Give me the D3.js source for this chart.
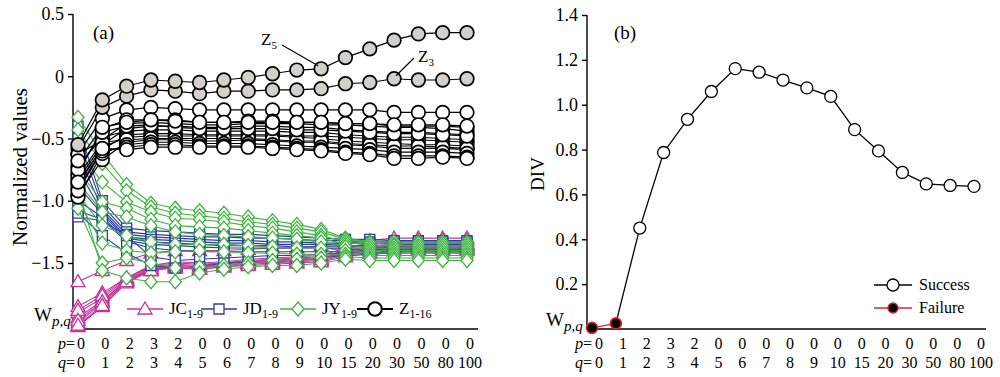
<!DOCTYPE html>
<html>
<head>
<meta charset="utf-8">
<script src="https://cdn.jsdelivr.net/npm/d3@7"></script>
<style>
  body { margin: 0; background: #fff; }
  svg text { font-family: "Times New Roman", "Liberation Serif", "DejaVu Serif", serif !important; fill: #000; }
</style>
</head>
<body>
<svg id="chart" width="1000" height="377"></svg>
<script>
// x categories (W_p,q)
const qLabels = ["0","1","2","3","4","5","6","7","8","9","10","15","20","30","50","80","100"];
const pLabelsA = ["0","0","2","3","2","0","0","0","0","0","0","0","0","0","0","0","0"];
const pLabelsB = ["0","1","2","3","2","0","0","0","0","0","0","0","0","0","0","0","0"];

// panel (a) – normalized values
const jc = [
  [-1.65,-1.56,-1.48,-1.42,-1.40,-1.40,-1.40,-1.39,-1.38,-1.38,-1.36,-1.34,-1.32,-1.30,-1.30,-1.30,-1.30],
  [-1.85,-1.74,-1.62,-1.52,-1.49,-1.50,-1.49,-1.47,-1.46,-1.45,-1.44,-1.38,-1.35,-1.33,-1.32,-1.32,-1.32],
  [-1.90,-1.78,-1.63,-1.53,-1.51,-1.52,-1.50,-1.48,-1.47,-1.46,-1.45,-1.40,-1.37,-1.35,-1.34,-1.34,-1.34],
  [-1.94,-1.80,-1.64,-1.55,-1.52,-1.53,-1.51,-1.49,-1.48,-1.47,-1.46,-1.42,-1.39,-1.37,-1.36,-1.36,-1.36],
  [-1.98,-1.82,-1.65,-1.55,-1.53,-1.54,-1.52,-1.50,-1.49,-1.48,-1.47,-1.43,-1.40,-1.38,-1.38,-1.38,-1.38],
  [-2.01,-1.85,-1.66,-1.56,-1.53,-1.55,-1.53,-1.51,-1.50,-1.49,-1.48,-1.44,-1.42,-1.40,-1.40,-1.40,-1.40],
  [-1.88,-1.76,-1.62,-1.52,-1.50,-1.51,-1.50,-1.49,-1.48,-1.47,-1.46,-1.41,-1.38,-1.36,-1.35,-1.35,-1.35],
  [-1.96,-1.81,-1.64,-1.54,-1.52,-1.53,-1.52,-1.50,-1.49,-1.48,-1.47,-1.42,-1.39,-1.37,-1.37,-1.37,-1.37],
  [-2.00,-1.84,-1.65,-1.56,-1.54,-1.55,-1.53,-1.52,-1.51,-1.50,-1.49,-1.45,-1.42,-1.40,-1.39,-1.39,-1.39]
];
const jd = [
  [-0.40,-1.00,-1.22,-1.24,-1.25,-1.26,-1.27,-1.27,-1.28,-1.29,-1.30,-1.31,-1.31,-1.32,-1.32,-1.32,-1.32],
  [-0.50,-1.04,-1.25,-1.27,-1.28,-1.29,-1.29,-1.30,-1.30,-1.31,-1.32,-1.32,-1.33,-1.33,-1.33,-1.33,-1.33],
  [-0.62,-1.07,-1.27,-1.29,-1.30,-1.31,-1.32,-1.32,-1.33,-1.33,-1.34,-1.34,-1.34,-1.35,-1.35,-1.35,-1.35],
  [-0.75,-1.09,-1.29,-1.31,-1.32,-1.33,-1.34,-1.34,-1.35,-1.35,-1.35,-1.36,-1.36,-1.36,-1.36,-1.36,-1.36],
  [-0.88,-1.11,-1.30,-1.33,-1.34,-1.35,-1.36,-1.36,-1.36,-1.37,-1.37,-1.37,-1.37,-1.38,-1.38,-1.38,-1.38],
  [-1.00,-1.13,-1.32,-1.35,-1.36,-1.37,-1.38,-1.38,-1.38,-1.38,-1.38,-1.39,-1.39,-1.39,-1.39,-1.39,-1.39],
  [-1.08,-1.15,-1.33,-1.38,-1.40,-1.41,-1.41,-1.41,-1.41,-1.41,-1.41,-1.41,-1.40,-1.40,-1.40,-1.40,-1.40],
  [-1.13,-1.16,-1.28,-1.45,-1.48,-1.47,-1.46,-1.45,-1.44,-1.44,-1.43,-1.42,-1.42,-1.41,-1.41,-1.41,-1.41],
  [-1.10,-1.28,-1.42,-1.52,-1.54,-1.53,-1.50,-1.49,-1.48,-1.47,-1.46,-1.44,-1.43,-1.42,-1.42,-1.42,-1.42]
];
const jy = [
  [-0.33,-0.62,-0.87,-1.02,-1.06,-1.08,-1.10,-1.13,-1.16,-1.19,-1.23,-1.30,-1.33,-1.33,-1.33,-1.33,-1.33],
  [-0.43,-0.70,-0.92,-1.05,-1.10,-1.12,-1.14,-1.17,-1.19,-1.22,-1.25,-1.31,-1.34,-1.35,-1.34,-1.34,-1.34],
  [-0.60,-0.85,-1.01,-1.09,-1.14,-1.15,-1.17,-1.20,-1.22,-1.25,-1.28,-1.33,-1.36,-1.36,-1.36,-1.36,-1.36],
  [-0.75,-1.01,-1.06,-1.15,-1.20,-1.21,-1.22,-1.24,-1.26,-1.28,-1.30,-1.35,-1.38,-1.38,-1.38,-1.38,-1.38],
  [-0.85,-1.09,-1.13,-1.20,-1.25,-1.27,-1.28,-1.29,-1.30,-1.31,-1.33,-1.37,-1.40,-1.40,-1.40,-1.40,-1.40],
  [-0.95,-1.20,-1.28,-1.33,-1.35,-1.35,-1.35,-1.36,-1.37,-1.38,-1.38,-1.40,-1.42,-1.42,-1.42,-1.42,-1.42],
  [-1.00,-1.34,-1.40,-1.42,-1.41,-1.40,-1.41,-1.42,-1.42,-1.43,-1.43,-1.43,-1.44,-1.44,-1.44,-1.44,-1.44],
  [-1.06,-1.50,-1.46,-1.50,-1.54,-1.53,-1.52,-1.50,-1.48,-1.47,-1.46,-1.45,-1.46,-1.46,-1.46,-1.46,-1.46],
  [-0.90,-1.56,-1.62,-1.65,-1.65,-1.58,-1.55,-1.53,-1.52,-1.52,-1.50,-1.47,-1.48,-1.48,-1.48,-1.48,-1.48]
];
const z = [
  [-0.62,-0.34,-0.27,-0.25,-0.26,-0.27,-0.27,-0.27,-0.27,-0.27,-0.27,-0.27,-0.27,-0.29,-0.29,-0.29,-0.29],
  [-0.78,-0.42,-0.35,-0.35,-0.35,-0.37,-0.37,-0.36,-0.36,-0.37,-0.37,-0.38,-0.38,-0.40,-0.40,-0.40,-0.41],
  [-0.58,-0.25,-0.16,-0.11,-0.12,-0.14,-0.12,-0.12,-0.11,-0.11,-0.10,-0.06,-0.05,-0.02,-0.03,-0.03,-0.02],
  [-0.63,-0.51,-0.38,-0.37,-0.38,-0.39,-0.39,-0.38,-0.38,-0.38,-0.39,-0.39,-0.40,-0.41,-0.41,-0.42,-0.44],
  [-0.55,-0.19,-0.08,-0.03,-0.04,-0.05,-0.03,-0.01, 0.02, 0.05, 0.06, 0.15, 0.22, 0.29, 0.34, 0.35, 0.35],
  [-0.83,-0.55,-0.42,-0.40,-0.40,-0.41,-0.41,-0.40,-0.40,-0.41,-0.41,-0.43,-0.44,-0.45,-0.45,-0.46,-0.47],
  [-0.72,-0.49,-0.44,-0.43,-0.43,-0.44,-0.44,-0.44,-0.44,-0.45,-0.45,-0.47,-0.48,-0.49,-0.49,-0.50,-0.51],
  [-0.90,-0.59,-0.47,-0.46,-0.46,-0.47,-0.47,-0.47,-0.47,-0.48,-0.48,-0.49,-0.50,-0.51,-0.51,-0.52,-0.53],
  [-0.87,-0.57,-0.49,-0.48,-0.48,-0.48,-0.48,-0.48,-0.48,-0.49,-0.50,-0.52,-0.53,-0.54,-0.55,-0.55,-0.56],
  [-0.95,-0.67,-0.53,-0.51,-0.51,-0.52,-0.52,-0.51,-0.52,-0.53,-0.53,-0.55,-0.56,-0.58,-0.58,-0.58,-0.59],
  [-0.80,-0.53,-0.51,-0.50,-0.50,-0.50,-0.50,-0.50,-0.51,-0.52,-0.52,-0.54,-0.55,-0.56,-0.56,-0.57,-0.58],
  [-0.97,-0.62,-0.55,-0.53,-0.53,-0.54,-0.54,-0.54,-0.55,-0.56,-0.57,-0.58,-0.59,-0.61,-0.61,-0.61,-0.62],
  [-0.75,-0.45,-0.40,-0.39,-0.41,-0.42,-0.42,-0.42,-0.42,-0.43,-0.43,-0.44,-0.45,-0.46,-0.46,-0.47,-0.48],
  [-0.92,-0.60,-0.57,-0.55,-0.55,-0.56,-0.56,-0.56,-0.57,-0.58,-0.59,-0.61,-0.62,-0.64,-0.64,-0.64,-0.65],
  [-0.85,-0.58,-0.59,-0.57,-0.57,-0.57,-0.57,-0.57,-0.58,-0.59,-0.60,-0.62,-0.63,-0.66,-0.66,-0.65,-0.66],
  [-0.68,-0.41,-0.37,-0.35,-0.36,-0.37,-0.37,-0.37,-0.37,-0.37,-0.37,-0.38,-0.38,-0.39,-0.39,-0.39,-0.40]
];
const zGrey = [2, 4]; // Z3 and Z5 shown with grey fill
const yTicksA = [0.5, 0, -0.5, -1.0, -1.5];

// panel (b) – DIV
const divValues = [0.005, 0.025, 0.45, 0.787, 0.935, 1.059, 1.161, 1.145, 1.11, 1.075, 1.037, 0.889, 0.794, 0.698, 0.647, 0.640, 0.636];
const divFailed = [true, true, false, false, false, false, false, false, false, false, false, false, false, false, false, false, false];
const yTicksB = [0.2, 0.4, 0.6, 0.8, 1.0, 1.2, 1.4];

const FONT = '"Times New Roman", "Liberation Serif", "DejaVu Serif", serif';
const svg = d3.select("#chart").attr("font-family", FONT);
const colJC = "#c4339c", colJD = "#2c3ca6", colJY = "#3cb43c", greyFill = "#d3d0ca";

const shapes = {
  tri: "M0,-7L7,5L-7,5Z",
  sq: "M-5,-5L5,-5L5,5L-5,5Z",
  dia: "M0,-7L6,0L0,7L-6,0Z"
};

// ---------- panel (a) ----------
const xA = d3.scalePoint().domain(d3.range(17)).range([78, 467]);
const yA = d3.scaleLinear().domain([-2.03, 0.5]).range([329, 14]);

const gA = svg.append("g");
gA.append("g")
  .attr("transform", "translate(73,0)")
  .call(d3.axisLeft(yA).tickValues(yTicksA).tickSize(5).tickPadding(4)
    .tickFormat(d => d === 0 ? "0" : d3.format(".1f")(d)))
  .attr("font-family", FONT).attr("font-size", 18)
  .call(g => g.select(".domain").attr("d", "M0," + yA(0.5) + "V" + yA(-2.03)))
  .call(g => g.selectAll("line,path").attr("stroke", "#000").attr("stroke-width", 1.4));
gA.append("line").attr("x1", 73).attr("x2", 478).attr("y1", yA(-2.03)).attr("y2", yA(-2.03))
  .attr("stroke", "#000").attr("stroke-width", 1.4);

const lineA = d3.line().x((d, i) => xA(i)).y(d => yA(d));

function drawGroup(data, color, shape, strokeW) {
  const g = gA.append("g");
  data.forEach(s => {
    g.append("path").attr("d", lineA(s)).attr("fill", "none").attr("stroke", color).attr("stroke-width", 1.1);
  });
  data.forEach(s => {
    g.selectAll(null).data(s).enter().append("path")
      .attr("d", shapes[shape])
      .attr("transform", (d, i) => "translate(" + xA(i) + "," + yA(d) + ")")
      .attr("fill", "#fff").attr("stroke", color).attr("stroke-width", strokeW);
  });
}
drawGroup(jc, colJC, "tri", 1.3);
drawGroup(jd, colJD, "sq", 1.3);
drawGroup(jy, colJY, "dia", 1.3);

const gZ = gA.append("g");
z.forEach(s => {
  gZ.append("path").attr("d", lineA(s)).attr("fill", "none").attr("stroke", "#000").attr("stroke-width", 1.2);
});
z.forEach((s, k) => {
  gZ.selectAll(null).data(s).enter().append("circle")
    .attr("cx", (d, i) => xA(i)).attr("cy", d => yA(d)).attr("r", 6.8)
    .attr("fill", zGrey.includes(k) ? greyFill : "#fff")
    .attr("stroke", "#000").attr("stroke-width", 1.7);
});

// annotations Z5, Z3
function subText(g, x, y, main, sub, size, subSize) {
  const t = g.append("text").attr("x", x).attr("y", y).style("font-size", size + "px");
  t.append("tspan").text(main);
  t.append("tspan").text(sub).attr("dy", 4).style("font-size", subSize + "px");
  return t;
}
gA.append("line").attr("x1", 282).attr("y1", 45).attr("x2", xA(10) - 3).attr("y2", yA(z[4][10]) - 3)
  .attr("stroke", "#000").attr("stroke-width", 1.1);
subText(gA, 261, 45, "Z", "5", 17, 11);
gA.append("line").attr("x1", 414).attr("y1", 58).attr("x2", xA(13) + 2).attr("y2", yA(z[2][13]) - 3)
  .attr("stroke", "#000").attr("stroke-width", 1.1);
subText(gA, 418, 62, "Z", "3", 17, 11);

gA.append("text").attr("x", 93).attr("y", 39).style("font-size", "19px").text("(a)");
gA.append("text").attr("transform", "translate(27,167) rotate(-90)").attr("text-anchor", "middle")
  .style("font-size", "21px").text("Normalized values");

// W_p,q label
function wLabel(g, x, y) {
  const t = g.append("text").attr("x", x).attr("y", y).style("font-size", "19px");
  t.append("tspan").text("W");
  t.append("tspan").text("p,q").attr("dy", 5).style("font-size", "15px").style("font-style", "italic");
}
wLabel(gA, 34, 321);

// legend (a)
const legA = [
  {lab: "JC", sub: "1-9", color: colJC, shape: "tri", x: 127},
  {lab: "JD", sub: "1-9", color: colJD, shape: "sq", x: 201},
  {lab: "JY", sub: "1-9", color: colJY, shape: "dia", x: 280},
  {lab: "Z", sub: "1-16", color: "#000", shape: "circ", x: 357}
];
legA.forEach(l => {
  const y = 309;
  gA.append("line").attr("x1", l.x).attr("x2", l.x + 36).attr("y1", y).attr("y2", y)
    .attr("stroke", l.color).attr("stroke-width", l.shape === "circ" ? 2 : 1.3);
  if (l.shape === "circ") {
    gA.append("circle").attr("cx", l.x + 18).attr("cy", y).attr("r", 6.8)
      .attr("fill", "#fff").attr("stroke", "#000").attr("stroke-width", 2);
  } else {
    gA.append("path").attr("d", shapes[l.shape]).attr("transform", "translate(" + (l.x + 18) + "," + y + ")")
      .attr("fill", "#fff").attr("stroke", l.color).attr("stroke-width", 1.3);
  }
  subText(gA, l.x + 42, y + 5, l.lab, l.sub, 17, 12);
});

// category labels
function catLabels(g, x, offset, pLabs, yP, yQ, labX) {
  const rows = [{lab: "p", vals: pLabs, y: yP}, {lab: "q", vals: qLabels, y: yQ}];
  rows.forEach(r => {
    const t = g.append("text").attr("x", labX).attr("y", r.y).attr("text-anchor", "end").style("font-size", "16px");
    t.append("tspan").text(r.lab).style("font-style", "italic");
    t.append("tspan").text("=");
    g.selectAll(null).data(r.vals).enter().append("text")
      .attr("x", (d, i) => x(i) + offset).attr("y", r.y).attr("text-anchor", "middle")
      .style("font-size", "16px").text(d => d);
  });
}
catLabels(gA, xA, 3, pLabelsA, 349, 368, 75);

// ---------- panel (b) ----------
const xB = d3.scalePoint().domain(d3.range(17)).range([592, 974]);
const yB = d3.scaleLinear().domain([0, 1.4]).range([329, 15]);
const gB = svg.append("g");
gB.append("g")
  .attr("transform", "translate(587,0)")
  .call(d3.axisLeft(yB).tickValues(yTicksB).tickSize(5).tickPadding(4).tickFormat(d3.format(".1f")))
  .attr("font-family", FONT).attr("font-size", 18)
  .call(g => g.select(".domain").attr("d", "M0," + yB(1.4) + "V" + yB(0)))
  .call(g => g.selectAll("line,path").attr("stroke", "#000").attr("stroke-width", 1.4));
gB.append("line").attr("x1", 587).attr("x2", 986).attr("y1", yB(0)).attr("y2", yB(0))
  .attr("stroke", "#000").attr("stroke-width", 1.4);

const lineB = d3.line().x(d => xB(d.i)).y(d => yB(d.v));
const divPts = divValues.map((v, i) => ({i, v, fail: divFailed[i]}));
const lastFail = d3.max(divPts.filter(d => d.fail), d => d.i);
gB.append("path").attr("d", lineB(divPts.filter(d => d.i >= lastFail)))
  .attr("fill", "none").attr("stroke", "#000").attr("stroke-width", 1.3);
gB.append("path").attr("d", lineB(divPts.filter(d => d.fail)))
  .attr("fill", "none").attr("stroke", "#e0202a").attr("stroke-width", 1.3);
gB.selectAll(null).data(divPts.filter(d => !d.fail)).enter().append("circle")
  .attr("cx", d => xB(d.i)).attr("cy", d => yB(d.v)).attr("r", 6)
  .attr("fill", "#fff").attr("stroke", "#000").attr("stroke-width", 1.3);
gB.selectAll(null).data(divPts.filter(d => d.fail)).enter().append("circle")
  .attr("cx", d => xB(d.i)).attr("cy", d => yB(d.v)).attr("r", 5.5)
  .attr("fill", "#000").attr("stroke", "#e0202a").attr("stroke-width", 1.6);

gB.append("text").attr("x", 614).attr("y", 39).style("font-size", "19px").text("(b)");
gB.append("text").attr("transform", "translate(544,174) rotate(-90)").attr("text-anchor", "middle")
  .style("font-size", "19px").text("DIV");
wLabel(gB, 546, 326);

// legend (b)
[{lab: "Success", y: 285, fail: false}, {lab: "Failure", y: 308, fail: true}].forEach(l => {
  gB.append("line").attr("x1", 874).attr("x2", 912).attr("y1", l.y).attr("y2", l.y)
    .attr("stroke", l.fail ? "#e0202a" : "#000").attr("stroke-width", 1.3);
  gB.append("circle").attr("cx", 893).attr("cy", l.y).attr("r", l.fail ? 5 : 6)
    .attr("fill", l.fail ? "#000" : "#fff").attr("stroke", l.fail ? "#e0202a" : "#000").attr("stroke-width", 1.3);
  gB.append("text").attr("x", 919).attr("y", l.y + 5).style("font-size", "16px").text(l.lab);
});

catLabels(gB, xB, 7, pLabelsB, 349, 368, 592);
</script>
</body>
</html>
